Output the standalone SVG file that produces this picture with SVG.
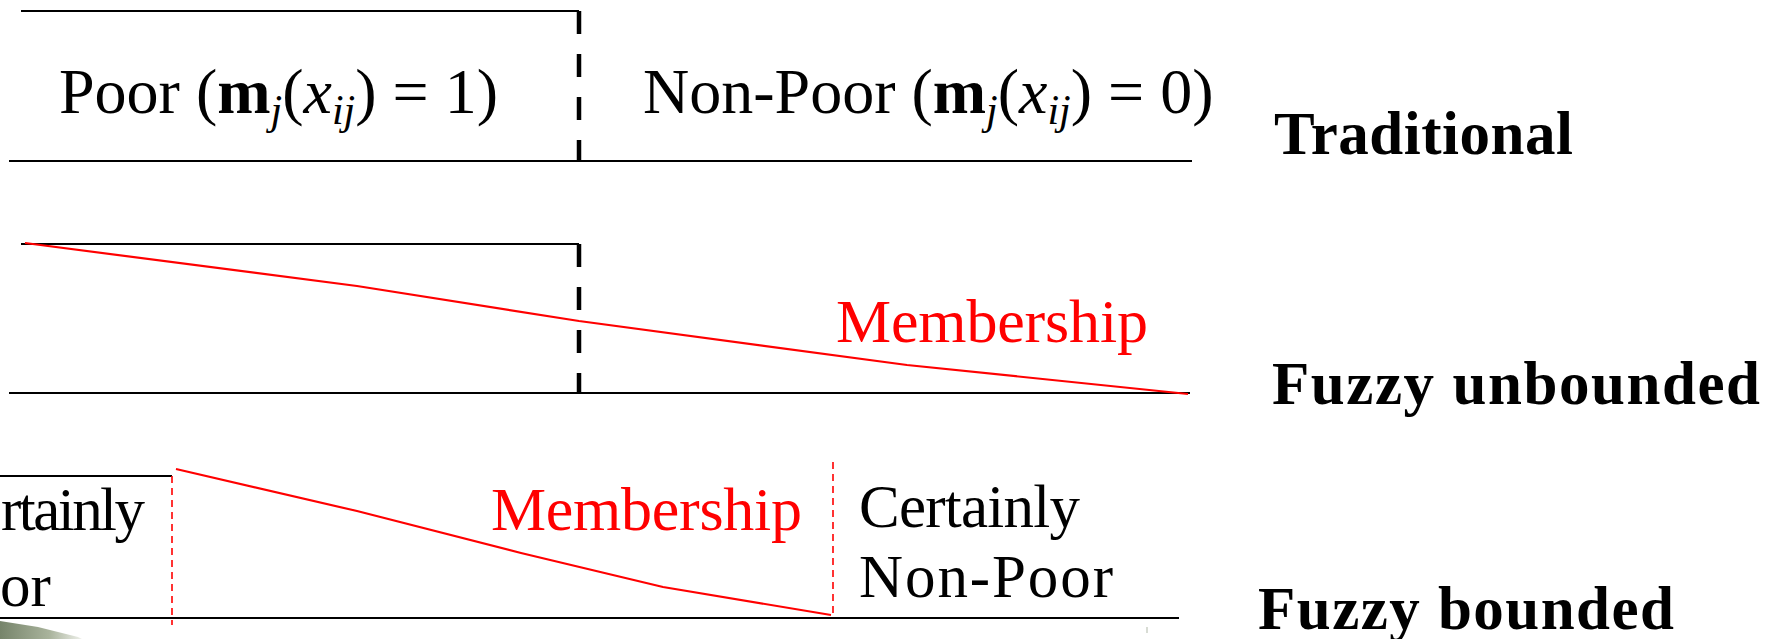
<svg xmlns="http://www.w3.org/2000/svg" width="1777" height="639" viewBox="0 0 1777 639">
<defs>
<style>
.ln{stroke:#000;stroke-width:2.2;fill:none}
.dash{stroke:#000;stroke-width:4.5;stroke-dasharray:23 20;fill:none}
.red{stroke:#f00;stroke-width:2.2;fill:none;stroke-linejoin:round}
.rdash{stroke:#f00;stroke-width:1.6;stroke-dasharray:7 5;fill:none}
.t{font-family:"Liberation Serif","Times New Roman",serif;font-size:64px;fill:#000}
.lbl{font-family:"Liberation Serif","Times New Roman",serif;font-size:61px;font-weight:bold;fill:#000}
.mem{font-family:"Liberation Serif","Times New Roman",serif;font-size:62px;fill:#f00}
.g{font-family:"Liberation Serif","Times New Roman",serif;font-size:61px;fill:#000}
.sub{font-style:italic;font-size:42px}
</style>
<linearGradient id="blob" x1="0" y1="0" x2="1" y2="0">
<stop offset="0" stop-color="#76846a"/>
<stop offset="0.6" stop-color="#a9b39c"/>
<stop offset="1" stop-color="#eef0ea"/>
</linearGradient>
</defs>
<rect width="1777" height="639" fill="#fff"/>
<g id="connectors">
<path class="ln" d="M21 11H579"/>
<path class="dash" d="M579 11V161"/>
<path class="ln" d="M9 161H1192"/>
<path class="ln" d="M21 244H579"/>
<path class="dash" d="M579 244V393"/>
<path class="ln" d="M9 393H1190"/>
<polyline class="red" points="25,243 357,286 579,321 907,365 1188,394"/>
<path class="ln" d="M0 476H172"/>
<path class="rdash" d="M172 476V625"/>
<path class="rdash" d="M833 462V616"/>
<path class="ln" d="M0 618H1179"/>
<polyline class="red" points="176,469 357,511 521,553 663,587 831,615"/>
</g>
<g id="traditional">
<text class="t" x="59" y="113">Poor (<tspan font-weight="bold">m</tspan><tspan class="sub" dy="11">j</tspan><tspan dy="-11">(</tspan><tspan font-style="italic">x</tspan><tspan class="sub" dy="11">ij</tspan><tspan dy="-11">) = 1)</tspan></text>
<text class="t" x="643" y="113">Non-Poor (<tspan font-weight="bold">m</tspan><tspan class="sub" dy="11">j</tspan><tspan dy="-11">(</tspan><tspan font-style="italic">x</tspan><tspan class="sub" dy="11">ij</tspan><tspan dy="-11">) = 0)</tspan></text>
<text class="lbl" x="1274" y="154" textLength="299">Traditional</text>
</g>
<g id="fuzzy-unbounded">
<text class="mem" x="836" y="342" textLength="312">Membership</text>
<text class="lbl" x="1272" y="404" textLength="488">Fuzzy unbounded</text>
</g>
<g id="fuzzy-bounded">
<text class="g" x="1" y="530" textLength="144">rtainly</text>
<text class="g" x="0" y="606">or</text>
<text class="mem" x="491" y="530" textLength="311">Membership</text>
<text class="g" x="859" y="527" textLength="221">Certainly</text>
<text class="g" x="859" y="597" textLength="254">Non-Poor</text>
<text class="lbl" x="1258" y="629" textLength="416">Fuzzy bounded</text>
</g>
<g id="decor">
<path d="M0 621 L38 627 L78 637 L82 639 L0 639 Z" fill="url(#blob)"/>
<rect x="1146" y="627" width="2" height="6" fill="#d8dcd4"/>
</g>
</svg>
